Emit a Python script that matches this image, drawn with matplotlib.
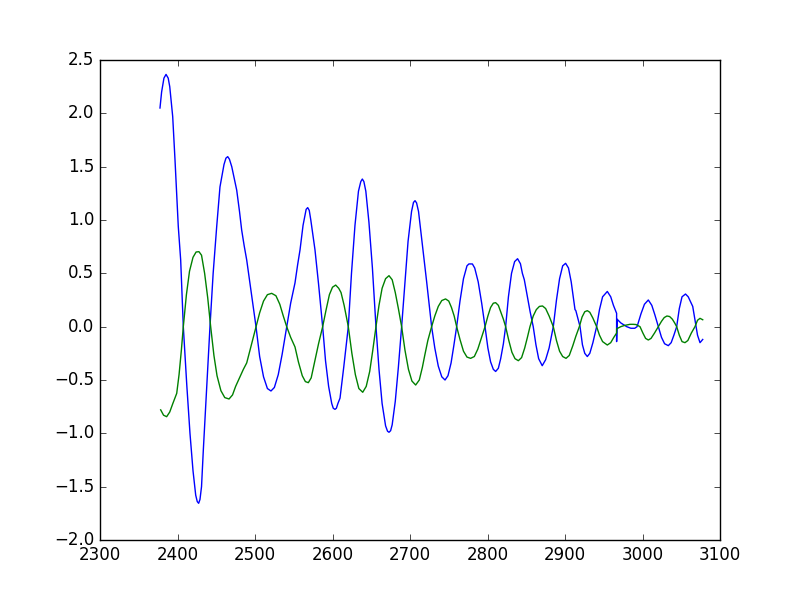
import matplotlib
matplotlib.use("Agg")
import matplotlib.pyplot as plt

plt.style.use("classic")  # old-style look: ticks inside, white background

# blue series (x, y)
blue_x = [2377.4, 2379.5, 2382.5, 2385.2, 2388, 2390, 2393.8, 2396.8, 2401, 2404.1, 2407.5,
          2412, 2416.1, 2420, 2423.5, 2425.5, 2427.3, 2429, 2431, 2433.3, 2437.5, 2441.9,
          2446, 2450.6, 2454.8, 2460, 2462.5, 2464.8, 2467, 2470, 2476.4, 2480, 2482.8, 2486, 2489.3, 2495, 2501.3,
          2506, 2511, 2516, 2520.6, 2525, 2530, 2535, 2540.9,
          2546, 2551.6, 2555, 2558.1, 2562, 2566, 2568, 2570, 2572, 2577.4, 2582, 2587.3,
          2591, 2595, 2599, 2601, 2603.2, 2605, 2607, 2609.7, 2614.5, 2620.4,
          2624.5, 2629, 2633.5, 2636.5, 2638.5, 2640.5, 2643, 2647, 2651.5, 2656.1,
          2660, 2664, 2668.5, 2671, 2672.9, 2675, 2677, 2681, 2685, 2689.2,
          2693.5, 2697.5, 2702, 2704.5, 2706.5, 2708.5, 2711, 2715.5, 2721.5, 2727.9,
          2732, 2736.5, 2741, 2745.2, 2749, 2753, 2756.5, 2760.2,
          2764.5, 2769, 2773.5, 2776, 2780.5, 2783.5, 2788, 2792.5, 2796.8,
          2800.5, 2804, 2807.5, 2810.5, 2814, 2817, 2820.5, 2823.4,
          2827, 2831, 2835, 2838.8, 2842.5, 2845, 2847.5, 2851, 2855, 2859,
          2862.5, 2866, 2870.6, 2875, 2879.5, 2884.9,
          2889, 2893, 2897, 2900.8, 2904.5, 2908, 2912.9, 2914, 2916.5, 2919.4,
          2922.5, 2925.5, 2928.8, 2932, 2936, 2940.8,
          2944.5, 2948.5, 2954.6, 2959, 2962.5, 2966.6, 2966.6, 2967.2, 2972, 2979.6,
          2985, 2990, 2993, 2998, 3002.5, 3007.5, 3012, 3016, 3020.4,
          3024.5, 3028.5, 3033.3, 3037, 3040.5, 3044.1,
          3047.5, 3051, 3055.5, 3059, 3064.8, 3068, 3071, 3074.2, 3077.7]
blue_y = [2.05, 2.2, 2.33, 2.365, 2.33, 2.25, 1.97, 1.56, 0.94, 0.625, 0.0,
          -0.55, -1.0, -1.35, -1.58, -1.64, -1.656, -1.62, -1.5, -1.16, -0.6, 0.0,
          0.5, 0.94, 1.31, 1.52, 1.58, 1.594, 1.57, 1.5, 1.28, 1.08, 0.906, 0.76, 0.625, 0.33, 0.0,
          -0.28, -0.47, -0.58, -0.603, -0.57, -0.45, -0.26, 0.0,
          0.22, 0.41, 0.58, 0.72, 0.95, 1.1, 1.116, 1.09, 1.0, 0.72, 0.4, 0.0,
          -0.32, -0.56, -0.72, -0.765, -0.775, -0.765, -0.72, -0.67, -0.38, 0.0,
          0.5, 0.95, 1.27, 1.36, 1.384, 1.36, 1.27, 0.98, 0.55, 0.0,
          -0.4, -0.72, -0.93, -0.98, -0.99, -0.975, -0.92, -0.7, -0.38, 0.0,
          0.42, 0.8, 1.08, 1.165, 1.181, 1.16, 1.08, 0.8, 0.42, 0.0,
          -0.2, -0.37, -0.47, -0.5, -0.46, -0.34, -0.18, 0.0,
          0.24, 0.45, 0.57, 0.588, 0.588, 0.55, 0.42, 0.22, 0.0,
          -0.2, -0.33, -0.4, -0.42, -0.39, -0.3, -0.16, 0.0,
          0.28, 0.5, 0.61, 0.637, 0.59, 0.5, 0.44, 0.3, 0.14, 0.0,
          -0.17, -0.3, -0.366, -0.31, -0.2, 0.0,
          0.25, 0.45, 0.57, 0.594, 0.55, 0.42, 0.16, 0.15, 0.08, 0.0,
          -0.17, -0.25, -0.28, -0.25, -0.15, 0.0,
          0.16, 0.28, 0.33, 0.28, 0.2, 0.125, -0.14, 0.07, 0.035, 0.0,
          -0.015, -0.015, 0.0, 0.12, 0.21, 0.25, 0.2, 0.11, 0.0,
          -0.1, -0.16, -0.178, -0.15, -0.08, 0.0,
          0.17, 0.28, 0.306, 0.28, 0.19, 0.05, -0.08, -0.15, -0.12]

# green series (x, y)
green_x = [2378.3, 2382, 2386, 2390, 2394, 2399, 2402, 2405, 2407.5,
           2411.5, 2415.5, 2420, 2424, 2427.7, 2431, 2435, 2439, 2442.8,
           2447, 2451, 2456, 2461, 2466.5, 2471, 2475, 2480.6, 2485, 2489.3, 2495, 2501.3,
           2506, 2511, 2516, 2521.5, 2527, 2532, 2536.5, 2540.9,
           2546, 2551.6, 2556, 2561, 2565, 2568.8, 2572.5, 2577, 2582, 2587.3,
           2591.5, 2596, 2600, 2604.1, 2608, 2611, 2615, 2620.4,
           2625, 2629.5, 2634, 2639, 2643.5, 2648, 2652, 2656.1,
           2660, 2664, 2668.5, 2672.9, 2677, 2681, 2685, 2689.2,
           2693.5, 2698, 2702.5, 2707.3, 2712, 2716, 2719, 2723, 2727.9,
           2732, 2736.5, 2741, 2745.9, 2750, 2753.5, 2757, 2760.2,
           2764.5, 2769, 2773.5, 2778.2, 2783, 2787.5, 2792, 2796.8,
           2800.5, 2804, 2807.5, 2810.5, 2814, 2817, 2820.5, 2823.4,
           2827.5, 2831.5, 2835.5, 2839.8, 2844, 2848, 2851.5, 2854.8,
           2859, 2863, 2867, 2871, 2875, 2879.5, 2884.9,
           2889, 2893, 2897, 2901.3, 2905.5, 2910, 2914, 2918.5,
           2922, 2925.5, 2928.8, 2932, 2936, 2940.8,
           2944.5, 2948.5, 2954.6, 2959, 2963, 2966.6, 2966.6, 2972, 2977, 2983.9,
           2988, 2991.6, 2996.8,
           3000.5, 3004, 3007.5, 3011, 3015.5, 3020.4,
           3024.5, 3028, 3031.5, 3035, 3038.5, 3041.5, 3044.1,
           3047.5, 3051, 3054.8, 3058.5, 3063, 3067.7,
           3071, 3074.2, 3077.7]
green_y = [-0.78, -0.83, -0.844, -0.8, -0.72, -0.625, -0.45, -0.22, 0.0,
           0.3, 0.52, 0.65, 0.7, 0.703, 0.67, 0.5, 0.27, 0.0,
           -0.27, -0.46, -0.6, -0.665, -0.678, -0.64, -0.56, -0.47, -0.4, -0.34, -0.18, 0.0,
           0.13, 0.24, 0.3, 0.3125, 0.29, 0.21, 0.1, 0.0,
           -0.1, -0.19, -0.33, -0.46, -0.515, -0.525, -0.48, -0.33, -0.16, 0.0,
           0.15, 0.3, 0.37, 0.39, 0.36, 0.32, 0.2, 0.0,
           -0.25, -0.45, -0.58, -0.615, -0.56, -0.42, -0.22, 0.0,
           0.2, 0.36, 0.45, 0.478, 0.44, 0.32, 0.17, 0.0,
           -0.22, -0.4, -0.51, -0.547, -0.5, -0.38, -0.27, -0.13, 0.0,
           0.1, 0.19, 0.245, 0.26, 0.24, 0.18, 0.1, 0.0,
           -0.12, -0.23, -0.285, -0.297, -0.28, -0.21, -0.11, 0.0,
           0.1, 0.18, 0.22, 0.225, 0.2, 0.14, 0.07, 0.0,
           -0.13, -0.24, -0.3, -0.319, -0.29, -0.2, -0.1, 0.0,
           0.1, 0.16, 0.19, 0.194, 0.17, 0.1, 0.0,
           -0.13, -0.23, -0.28, -0.297, -0.27, -0.18, -0.09, 0.0,
           0.09, 0.14, 0.15, 0.135, 0.08, 0.0,
           -0.08, -0.14, -0.172, -0.15, -0.1, -0.06, -0.02, 0.0, 0.012, 0.022,
           0.022, 0.02, 0.0,
           -0.06, -0.11, -0.125, -0.11, -0.06, 0.0,
           0.05, 0.085, 0.1, 0.095, 0.07, 0.035, 0.0,
           -0.08, -0.14, -0.15, -0.13, -0.06, 0.0,
           0.06, 0.078, 0.065]

fig, ax = plt.subplots(figsize=(8, 6), dpi=100)
ax.plot(blue_x, blue_y, color="b")
ax.plot(green_x, green_y, color="g")
ax.set_xlim(2300, 3100)
ax.set_ylim(-2.0, 2.5)

plt.savefig("out.png", dpi=100)
